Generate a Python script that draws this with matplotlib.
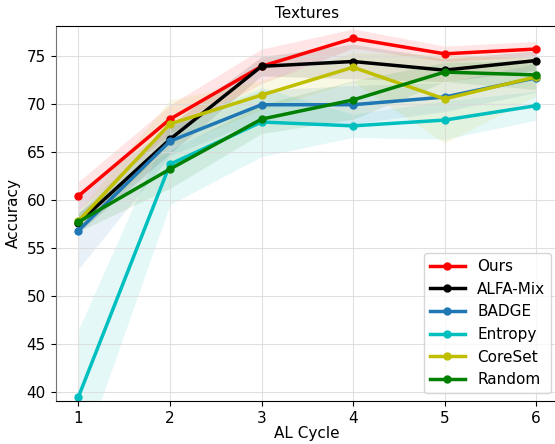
import numpy as np
import matplotlib
matplotlib.use("Agg")
import matplotlib.pyplot as plt

cycles = [1, 2, 3, 4, 5, 6]

methods = ["Ours", "ALFA-Mix", "BADGE", "Entropy", "CoreSet", "Random"]
colors = ["r", "k", "tab:blue", "c", "y", "g"]

ours = [60.4, 68.4, 73.9, 76.8, 75.2, 75.7]
alfa = [57.6, 66.3, 73.9, 74.4, 73.5, 74.5]
badge = [56.8, 66.1, 69.9, 69.9, 70.7, 72.7]
entropy = [39.5, 63.7, 68.1, 67.7, 68.3, 69.8]
coreset = [57.8, 67.9, 70.9, 73.8, 70.5, 72.8]
rand = [57.7, 63.2, 68.4, 70.4, 73.3, 73.0]

ours_std = [1.5, 1.5, 1.8, 1.0, 0.8, 0.8]
alfa_std = [1.0, 1.5, 1.0, 1.8, 1.2, 1.0]
badge_std = [4.0, 1.5, 1.5, 2.0, 1.5, 1.5]
entropy_std = [7.0, 4.2, 3.6, 1.2, 2.0, 1.5]
coreset_std = [1.0, 2.5, 1.5, 1.5, 4.6, 2.0]
rand_std = [1.0, 2.0, 1.5, 2.0, 1.0, 1.5]

means = [ours, alfa, badge, entropy, coreset, rand]
stds = [ours_std, alfa_std, badge_std, entropy_std, coreset_std, rand_std]

plt.rcParams["font.size"] = 11

fig = plt.figure(figsize=(5.55, 4.44), dpi=100)
ax = fig.add_axes([0.1002, 0.0969, 0.907, 0.8446])

for name, c, m, s in zip(methods, colors, means, stds):
    m = np.array(m)
    s = np.array(s)
    ax.plot(cycles, m, color=c, marker="o", lw=2.5, ms=5, label=name)
    ax.fill_between(cycles, m - s, m + s, color=c, alpha=0.1, lw=0)

ax.set_xlim(0.75, 6.25)
ax.set_ylim(39.05, 78.1)
ax.set_xticks(cycles)
ax.set_yticks(range(40, 80, 5))
ax.grid(color="0.85", alpha=0.8)
ax.spines["left"].set_color("0.45")
ax.spines["right"].set_visible(False)
ax.set_title("Textures", fontsize=11)
ax.set_xlabel("AL Cycle", labelpad=0.5)
ax.set_ylabel("Accuracy")
ax.legend(loc="lower right", handlelength=2.3)

fig.savefig("out.png", dpi=100)
